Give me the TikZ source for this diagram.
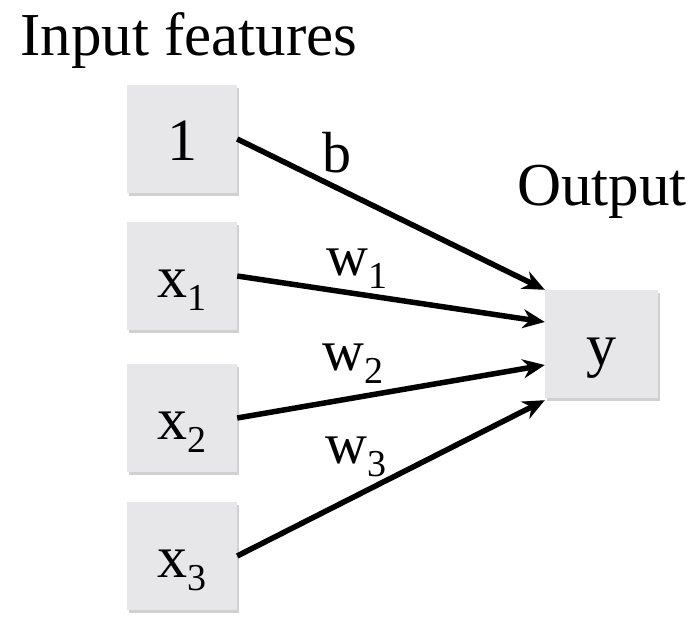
\documentclass[tikz,border=0pt]{standalone}
\usepackage{fontspec}
\setmainfont{Liberation Serif}
\usetikzlibrary{arrows.meta,shadows}
\definecolor{boxfill}{RGB}{231,231,233}
\newcommand{\mysub}[1]{\raisebox{-13pt}{\fontsize{38}{40}\selectfont #1}}
\tikzset{
  feat/.style={draw=none, fill=boxfill, minimum width=110pt, minimum height=108pt,
    inner sep=0pt, text height=42pt, text depth=0pt,
    font=\fontsize{60}{66}\selectfont,
    drop shadow={shadow xshift=1.5pt, shadow yshift=-3pt, opacity=0.18, fill=black}},
  outbox/.style={feat, minimum width=113pt},
  wire/.style={line width=5.5pt, -{Stealth[length=22pt, width=19pt]}},
  wlabel/.style={anchor=base west, inner sep=0pt, font=\fontsize{58}{64}\selectfont},
  title/.style={anchor=base west, inner sep=0pt, font=\fontsize{61}{70}\selectfont}
}
\begin{document}
\begin{tikzpicture}[x=1pt,y=-1pt]
\useasboundingbox (0,0) rectangle (699,616);
\node[title] (tin) at (20,55) {Input features};
\node[title] (tout) at (517,205) {Output};
\node[feat] (one) at (182,139) {1};
\node[feat] (x1) at (182,276) {x\mysub{1}};
\node[feat] (x2) at (182,418) {x\mysub{2}};
\node[feat] (x3) at (182,556) {x\mysub{3}};
\node[outbox] (y) at (601.5,344) {y};
\draw[wire] (one.east) -- (y.north west);
\draw[wire] (x1.east) -- ([yshift=22pt]y.west);
\draw[wire] (x2.east) -- ([yshift=-21pt]y.west);
\draw[wire] (x3.east) -- ([yshift=-2pt]y.south west);
\node[wlabel] (lb) at (322,172) {b};
\node[wlabel] (lw1) at (326,275) {w\mysub{1}};
\node[wlabel] (lw2) at (322,370) {w\mysub{2}};
\node[wlabel] (lw3) at (325,463) {w\mysub{3}};
\end{tikzpicture}
\end{document}
